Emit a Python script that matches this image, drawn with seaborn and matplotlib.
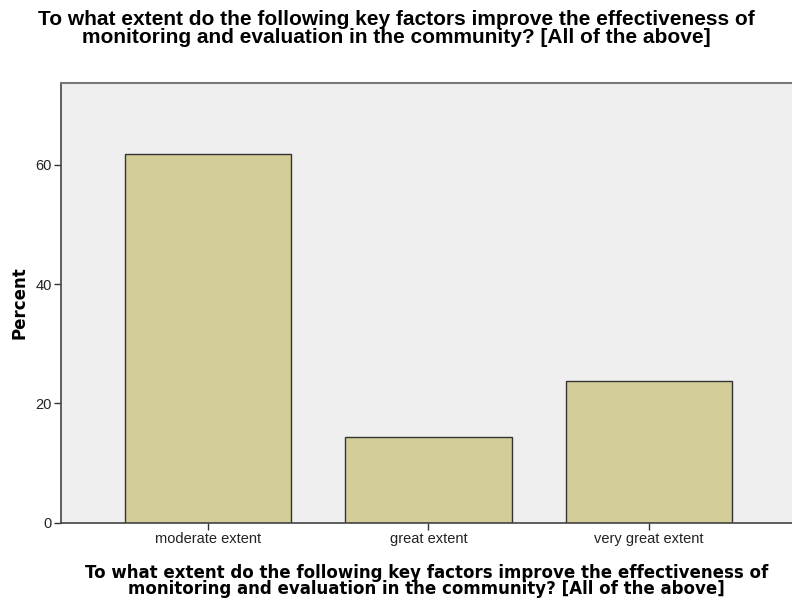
import matplotlib
matplotlib.use("Agg")
import matplotlib.pyplot as plt
import seaborn as sns
import pandas as pd

categories = ["moderate extent", "great extent", "very great extent"]
percent = [61.9, 14.3, 23.8]
title_text = ("To what extent do the following key factors improve the effectiveness of\n"
              "monitoring and evaluation in the community? [All of the above]")
y_ticks = [0, 20, 40, 60]

sns.set_theme(style="white")
plt.rcParams['font.family'] = ['Liberation Sans', 'DejaVu Sans']
plt.rcParams['text.color'] = 'black'

df = pd.DataFrame({"category": categories, "percent": percent})

fig = plt.figure(figsize=(7.92, 6.04), dpi=100)
ax = fig.add_axes([61/792, 1-522.7/604, 1-61/792, (522.7-83)/604])
ax.set_facecolor("#EFEFEF")

sns.barplot(data=df, x="category", y="percent", color="#D3CE97", width=0.755,
            edgecolor="#333333", linewidth=1.0, saturation=1, ax=ax)

ax.set_xlim(-0.667, 2.65)
ax.set_ylim(0, 73.75)
ax.set_yticks(y_ticks)
ax.set_yticklabels([str(t) for t in y_ticks], fontsize=10.5, color="#222222")
ax.set_xticks(range(len(categories)))
ax.set_xticklabels(categories, fontsize=10.5, color="#222222")
ax.tick_params(axis="both", direction="out", length=5, width=1, color="#333333",
               bottom=True, left=True, pad=1.5)

for s in ["left", "bottom"]:
    ax.spines[s].set_color("#444444")
    ax.spines[s].set_linewidth(1.2)
ax.spines["top"].set_color("#777777")
ax.spines["top"].set_linewidth(1.5)
ax.spines["right"].set_visible(False)

ax.set_ylabel("Percent", fontsize=12, fontweight="bold", family=["DejaVu Sans"],
              color="black", labelpad=5)
ax.set_xlabel(title_text, fontsize=12, fontweight="bold", family=["DejaVu Sans"],
              color="black", linespacing=0.9, labelpad=13)

fig.text(0.5, 1-10/604, title_text, ha="center", va="top", fontsize=15,
         fontweight="bold", family=["Liberation Sans"], color="black",
         linespacing=0.92)

fig.savefig("out.png", dpi=100)
